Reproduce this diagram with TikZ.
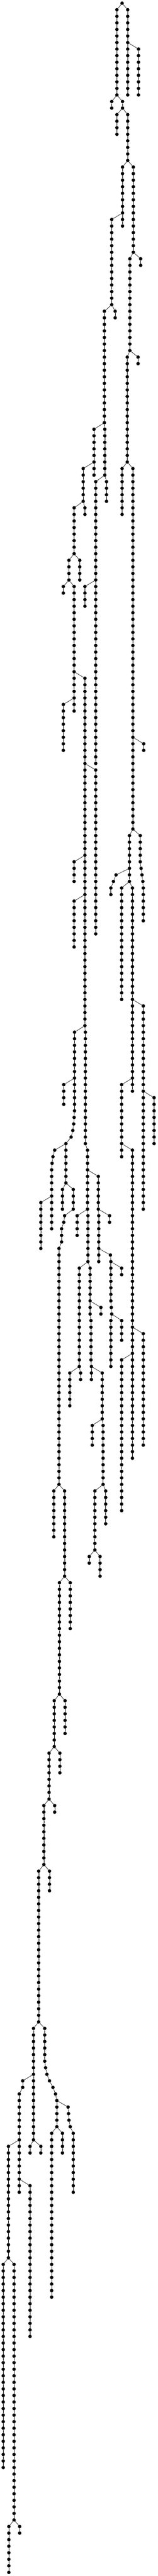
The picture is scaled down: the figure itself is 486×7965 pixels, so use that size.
\documentclass[tikz,border=0pt]{standalone}
\usepackage{tikz}
\tikzset{
  nd/.style={circle,fill=black,draw=none,inner sep=0pt,minimum size=10.7pt},
  conn/.style={line width=1pt,black}
}
% #1 id, #2 x (in 1/3 pt), #3 first row, #4 last row
\newcommand\mkchain[4]{%
  \foreach \r in {#3,...,#4}{%
    \node[nd] (#1-\r) at ({#2/3},{9.9+20.265*\r}) {};
    \ifnum\r>#3\relax \pgfmathtruncatemacro\p{\r-1}\draw[conn] (#1-\p) -- (#1-\r);\fi
  }}
\newcommand\lnk[2]{\draw[conn] (#1) -- (#2);}
\begin{document}
\begin{tikzpicture}[x=1pt,y=-1pt]
\path[fill=white,use as bounding box] (0,0) rectangle (486,7965);
% top part
\mkchain{R}{1130}{0}{0}
\mkchain{A}{1082}{1}{14} \lnk{R-0}{A-1}
\mkchain{B}{1182}{1}{14} \lnk{R-0}{B-1}
\mkchain{C}{1282}{7}{14} \lnk{B-6}{C-7}
\mkchain{D}{1034}{15}{16} \lnk{A-14}{D-15}
\mkchain{E}{1134}{15}{16} \lnk{A-14}{E-15}
\mkchain{F}{1082}{17}{20} \lnk{E-16}{F-17}
\mkchain{G}{1182}{17}{24} \lnk{E-16}{G-17}
\mkchain{H}{1134}{25}{34} \lnk{G-24}{H-25}
\mkchain{J}{1234}{25}{38} \lnk{G-24}{J-25}
\mkchain{I}{1034}{33}{46} \lnk{H-32}{I-33}
\mkchain{K}{1302}{39}{40} \lnk{J-38}{K-39}
\mkchain{L}{1202}{39}{53} \lnk{J-38}{L-39}
\mkchain{M}{1278}{54}{55} \lnk{L-53}{M-54}
\mkchain{N}{1178}{54}{70} \lnk{L-53}{N-54}
\mkchain{O}{1130}{71}{78} \lnk{N-70}{O-71}
\mkchain{P}{1230}{71}{126} \lnk{N-70}{P-71}
\mkchain{Q}{1330}{113}{114} \lnk{P-112}{Q-113}
\mkchain{S}{1066}{47}{48} \lnk{I-46}{S-47}
\mkchain{T}{966}{47}{64} \lnk{I-46}{T-47}
\mkchain{U}{870}{65}{70} \lnk{T-64}{U-65}
\mkchain{V}{970}{65}{72} \lnk{T-64}{V-65}
\mkchain{W}{870}{71}{72} \lnk{U-70}{W-71}
\mkchain{X}{770}{71}{76} \lnk{U-70}{X-71}
\mkchain{Y}{986}{73}{76} \lnk{V-72}{Y-73}
\mkchain{Z}{886}{73}{116} \lnk{V-72}{Z-73}
\mkchain{AA}{686}{77}{84} \lnk{X-76}{AA-77}
\mkchain{AB}{786}{77}{78} \lnk{X-76}{AB-77}
\mkchain{AC}{738}{85}{88} \lnk{AA-84}{AC-85}
\mkchain{AD}{638}{85}{88} \lnk{AA-84}{AD-85}
\mkchain{AE}{586}{89}{90} \lnk{AD-88}{AE-89}
\mkchain{AF}{686}{89}{108} \lnk{AD-88}{AF-89}
\mkchain{AH}{586}{107}{114} \lnk{AF-106}{AH-107}
\mkchain{AG}{786}{103}{156} \lnk{AF-102}{AG-103}
\mkchain{AI}{786}{89}{92} \lnk{Z-88}{AI-89}
\mkchain{AJ}{886}{117}{142} \lnk{AG-116}{AJ-117}
\mkchain{AK}{686}{131}{134} \lnk{AG-130}{AK-131}
\mkchain{AL}{686}{137}{144} \lnk{AG-136}{AL-137}
\mkchain{AGb}{790}{157}{174} \lnk{AG-156}{AGb-157}
\mkchain{AGc}{810}{175}{184} \lnk{AGb-174}{AGc-175}
\mkchain{AGd}{814}{185}{192} \lnk{AGc-184}{AGd-185}
\mkchain{AM}{690}{157}{169} \lnk{AG-156}{AM-157}
\mkchain{AN}{590}{165}{168} \lnk{AM-164}{AN-165}
\mkchain{AMa}{686}{170}{170} \lnk{AM-169}{AMa-170}
\mkchain{AMb}{682}{171}{171} \lnk{AMa-170}{AMb-171}
\mkchain{AMc}{674}{172}{172} \lnk{AMb-171}{AMc-172}
\mkchain{AMd}{658}{173}{173} \lnk{AMc-172}{AMd-173}
\mkchain{AO}{610}{174}{180} \lnk{AMd-173}{AO-174}
\mkchain{AP}{1198}{127}{134} \lnk{P-126}{AP-127}
\mkchain{AQ}{1298}{127}{131} \lnk{P-126}{AQ-127}
\mkchain{AQa}{1306}{132}{132} \lnk{AQ-131}{AQa-132}
\mkchain{AQb}{1314}{133}{133} \lnk{AQa-132}{AQb-133}
\mkchain{AQc}{1322}{134}{134} \lnk{AQb-133}{AQc-134}
\mkchain{AQd}{1326}{135}{140} \lnk{AQc-134}{AQd-135}
\mkchain{ARa}{1074}{133}{133} \lnk{AP-132}{ARa-133}
\mkchain{ARb}{1050}{134}{134} \lnk{ARa-133}{ARb-134}
\mkchain{ARc}{1026}{135}{136} \lnk{ARb-134}{ARc-135}
\mkchain{AS}{1126}{135}{152} \lnk{AP-134}{AS-135}
\mkchain{AT}{1226}{135}{166} \lnk{AP-134}{AT-135}
\mkchain{AU}{1326}{153}{184} \lnk{AT-152}{AU-153}
\mkchain{AV}{1126}{165}{176} \lnk{AT-164}{AV-165}
\mkchain{AW}{1426}{167}{174} \lnk{AU-166}{AW-167}
\mkchain{AX}{1226}{175}{222} \lnk{AV-174}{AX-175}
\mkchain{AY}{1326}{203}{220} \lnk{AX-202}{AY-203}
\mkchain{AZ}{1126}{207}{230} \lnk{AX-206}{AZ-207}
% middle part
\mkchain{BAa}{506}{175}{175} \lnk{AO-174}{BAa-175}
\mkchain{BAb}{490}{176}{176} \lnk{BAa-175}{BAb-176}
\mkchain{BAc}{482}{177}{177} \lnk{BAb-176}{BAc-177}
\mkchain{BA}{478}{178}{187} \lnk{BAc-177}{BA-178}
\mkchain{BB}{378}{183}{190} \lnk{BA-182}{BB-183}
\mkchain{BC}{578}{181}{184} \lnk{AO-180}{BC-181}
\mkchain{BD}{678}{181}{184} \lnk{AO-180}{BD-181}
\mkchain{BDa}{598}{185}{185} \lnk{BD-184}{BDa-185}
\mkchain{BDb}{590}{186}{186} \lnk{BDa-185}{BDb-186}
\mkchain{BDc}{570}{187}{189} \lnk{BDb-186}{BDc-187}
\mkchain{BE}{546}{190}{226} \lnk{BDc-189}{BE-190}
\mkchain{BF}{910}{179}{184} \lnk{AGc-178}{BF-179}
\mkchain{BFb}{914}{185}{192} \lnk{BF-184}{BFb-185}
\mkchain{BG}{1014}{185}{186} \lnk{BF-184}{BG-185}
\mkchain{BHa}{1022}{191}{191} \lnk{BFb-190}{BHa-191}
\mkchain{BH}{1026}{192}{198} \lnk{BHa-191}{BH-192}
\mkchain{BHb}{1030}{199}{199} \lnk{BH-198}{BHb-199}
\mkchain{BHc}{1034}{200}{200} \lnk{BHb-199}{BHc-200}
\mkchain{BHd}{1026}{201}{208} \lnk{BHc-200}{BHd-201}
\mkchain{BI}{1126}{193}{194} \lnk{BH-192}{BI-193}
\mkchain{BJ}{1126}{201}{204} \lnk{BHc-200}{BJ-201}
\mkchain{BK}{714}{185}{188} \lnk{AGc-184}{BK-185}
\mkchain{BL}{734}{193}{208} \lnk{AGd-192}{BL-193}
\mkchain{BM}{834}{193}{200} \lnk{AGd-192}{BM-193}
\mkchain{BMb}{842}{201}{207} \lnk{BM-200}{BMb-201}
\mkchain{BMc}{846}{208}{210} \lnk{BMb-207}{BMc-208}
\mkchain{BN}{646}{209}{214} \lnk{BL-208}{BN-209}
\mkchain{BO}{746}{209}{210} \lnk{BL-208}{BO-209}
\mkchain{BP}{934}{199}{200} \lnk{BM-198}{BP-199}
\mkchain{BQ}{946}{209}{216} \lnk{BMc-208}{BQ-209}
\mkchain{BR}{854}{217}{220} \lnk{BQ-216}{BR-217}
\mkchain{BQb}{954}{217}{226} \lnk{BQ-216}{BQb-217}
\mkchain{BS}{878}{227}{236} \lnk{BQb-226}{BS-227}
\mkchain{BT}{978}{227}{232} \lnk{BQb-226}{BT-227}
\mkchain{BU}{826}{237}{238} \lnk{BS-236}{BU-237}
\mkchain{BV}{926}{237}{240} \lnk{BS-236}{BV-237}
\mkchain{BW}{498}{227}{234} \lnk{BE-226}{BW-227}
\mkchain{BX}{598}{227}{240} \lnk{BE-226}{BX-227}
\mkchain{BY}{550}{241}{258} \lnk{BX-240}{BY-241}
\mkchain{BZ}{650}{241}{248} \lnk{BX-240}{BZ-241}
\mkchain{CA}{502}{259}{266} \lnk{BY-258}{CA-259}
\mkchain{CB}{602}{259}{264} \lnk{BY-258}{CB-259}
\mkchain{CC}{454}{267}{274} \lnk{CA-266}{CC-267}
\mkchain{CD}{554}{267}{270} \lnk{CA-266}{CD-267}
% lower part
\mkchain{CE}{406}{275}{284} \lnk{CC-274}{CE-275}
\mkchain{CF}{506}{275}{276} \lnk{CC-274}{CF-275}
\mkchain{CG}{358}{285}{308} \lnk{CE-284}{CG-285}
\mkchain{CH}{458}{285}{288} \lnk{CE-284}{CH-285}
\mkchain{CI}{310}{309}{326} \lnk{CG-308}{CI-309}
\mkchain{CJ}{414}{309}{314} \lnk{CG-308}{CJ-309}
\mkchain{CJa}{422}{315}{315} \lnk{CJ-314}{CJa-315}
\mkchain{CJb}{434}{316}{316} \lnk{CJa-315}{CJb-316}
\mkchain{CJc}{458}{317}{317} \lnk{CJb-316}{CJc-317}
\mkchain{CJd}{490}{318}{318} \lnk{CJc-317}{CJd-318}
\mkchain{CJe}{514}{319}{319} \lnk{CJd-318}{CJe-319}
\mkchain{CJf}{526}{320}{324} \lnk{CJe-319}{CJf-320}
\mkchain{CKa}{210}{317}{318} \lnk{CI-316}{CKa-317}
\mkchain{CK}{178}{319}{334} \lnk{CKa-318}{CK-319}
\mkchain{CL}{78}{327}{344} \lnk{CK-326}{CL-327}
\mkchain{CM}{278}{333}{356} \lnk{CK-332}{CM-333}
\mkchain{CN}{30}{345}{376} \lnk{CL-344}{CN-345}
\mkchain{CO}{130}{345}{384} \lnk{CL-344}{CO-345}
\mkchain{CP}{82}{385}{392} \lnk{CO-384}{CP-385}
\mkchain{CQ}{182}{385}{386} \lnk{CO-384}{CQ-385}
\mkchain{CR}{278}{327}{328} \lnk{CI-326}{CR-327}
\mkchain{CS}{378}{327}{328} \lnk{CI-326}{CS-327}
\mkchain{CTa}{630}{321}{321} \lnk{CJf-320}{CTa-321}
\mkchain{CTb}{634}{322}{322} \lnk{CTa-321}{CTb-322}
\mkchain{CTc}{638}{323}{323} \lnk{CTb-322}{CTc-323}
\mkchain{CTd}{650}{324}{324} \lnk{CTc-323}{CTd-324}
\mkchain{CT}{678}{325}{334} \lnk{CTd-324}{CT-325}
\mkchain{CU}{478}{325}{350} \lnk{CJf-324}{CU-325}
\mkchain{CV}{578}{325}{328} \lnk{CJf-324}{CV-325}
\end{tikzpicture}
\end{document}
